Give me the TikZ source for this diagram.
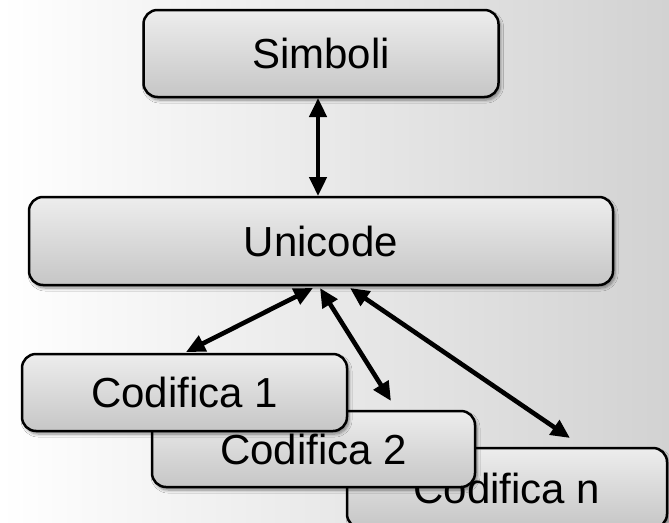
\documentclass[tikz,border=0pt]{standalone}
\usepackage{fontspec}
\setmainfont{Liberation Sans}
\usetikzlibrary{arrows.meta,shadows.blur}
\begin{document}
\begin{tikzpicture}[x=1pt,y=-1pt,
  box/.style={draw=black, line width=2.5pt, rounded corners=14pt,
    top color={rgb,255:red,237;green,237;blue,237},
    bottom color={rgb,255:red,198;green,198;blue,198},
    blur shadow={shadow xshift=2pt, shadow yshift=-3pt, shadow blur steps=6,
      shadow blur radius=3pt, shadow opacity=45},
    font=\fontsize{42}{48}\selectfont, inner sep=0pt, anchor=center},
  link/.style={line width=4.6pt, {Triangle[length=19pt,width=17pt]}-{Triangle[length=19pt,width=17pt]}}
]
\useasboundingbox (0,0) rectangle (669,522);
\fill[left color=white, right color={rgb,255:red,210;green,210;blue,210}] (0,0) rectangle (669,522);

\node[box, minimum width=320pt, minimum height=80pt] (cn) at (507,488) {Codifica n};
\node[box, minimum width=323pt, minimum height=76pt] (c2) at (313.5,449) {Codifica 2};
\node[box, minimum width=325pt, minimum height=77pt] (c1) at (184.5,392.5) {Codifica 1};
\node[box, minimum width=355pt, minimum height=87pt] (s) at (321,53.5) {Simboli};
\node[box, minimum width=584pt, minimum height=88pt] (u) at (321,241) {Unicode};

\coordinate (s0) at (318,98);
\coordinate (u0) at (318,196);
\coordinate (u1) at (313,288);
\coordinate (u2) at (320,288);
\coordinate (u3) at (350,288);
\coordinate (e1) at (186,352);
\coordinate (e2) at (391,401);
\coordinate (e3) at (570,438);

\draw[link] (s0) -- (u0);
\draw[link] (u1) -- (e1);
\draw[link] (u2) -- (e2);
\draw[link] (u3) -- (e3);
\end{tikzpicture}
\end{document}
